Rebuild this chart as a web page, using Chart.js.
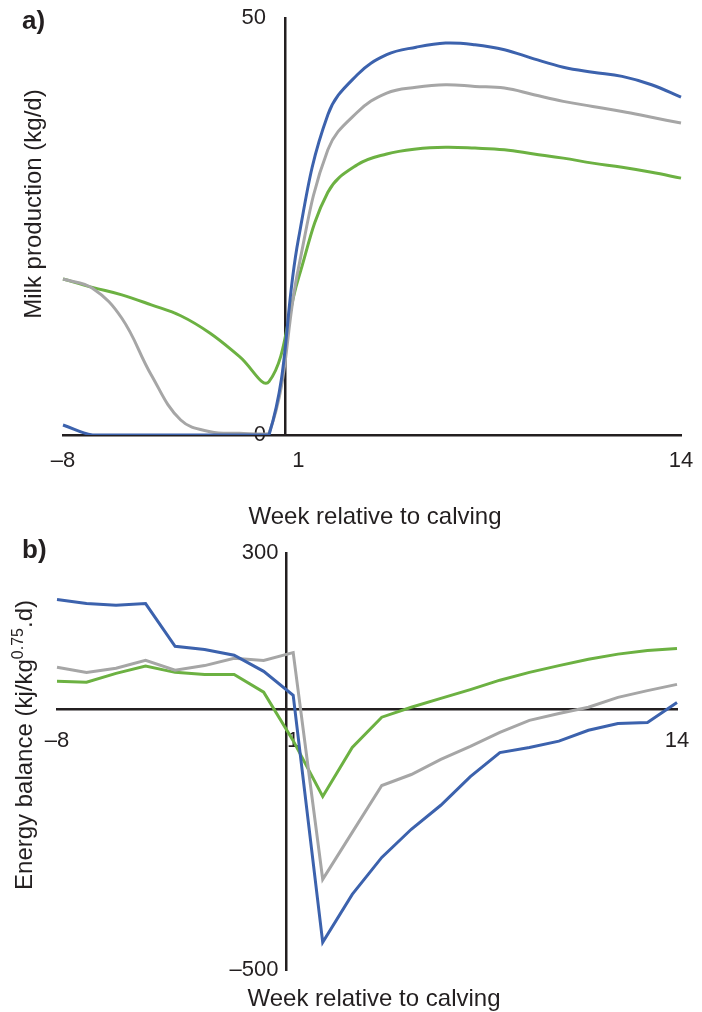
<!DOCTYPE html>
<html>
<head>
<meta charset="utf-8">
<script src="https://cdn.jsdelivr.net/npm/chart.js@4.4.1/dist/chart.umd.min.js"></script>
<style>
body{margin:0;width:702px;height:1012px;position:relative;background:#fff;overflow:hidden;
  font-family:"Liberation Sans",Arial,sans-serif;color:#231f20}
canvas{position:absolute;left:0}
.t{position:absolute;font-size:24px;white-space:nowrap;transform:translateX(-50%)}
.p{position:absolute;font-size:26px;font-weight:bold}
.r{position:absolute;font-size:24px;white-space:nowrap;transform:translate(-50%,-50%) rotate(-90deg)}
.r sup{font-size:16px}
</style>
</head>
<body>
<canvas id="milk" width="702" height="500" style="top:0"></canvas>
<canvas id="eb" width="702" height="512" style="top:500px"></canvas>

<div class="p" style="left:22px;top:5px">a)</div>
<div class="r" style="left:33px;top:204px">Milk production (kg/d)</div>
<div class="t" style="left:375px;top:502px">Week relative to calving</div>

<div class="p" style="left:22px;top:534px">b)</div>
<div class="r" style="left:23px;top:745px">Energy balance (kj/kg<sup>0.75</sup>.d)</div>
<div class="t" style="left:374px;top:984px">Week relative to calving</div>

<script>
// weeks relative to calving (no week 0)
const weeks = [-8,-7,-6,-5,-4,-3,-2,-1,1,2,3,4,5,6,7,8,9,10,11,12,13,14];
const shownWeeks = [-8, 1, 14];

// a) milk production, kg/d
const milkBlue  = [1.2,0,0,0,0,0,0,0,23.5,38.4,43.2,45.6,46.5,47.0,46.8,46.2,45.1,44.1,43.5,43.0,42.0,40.5];
const milkGrey  = [18.7,17.6,14.0,7.2,1.8,0.4,0.2,0.2,20.0,34.2,38.7,41.0,41.7,42.0,41.8,41.6,40.8,40.0,39.4,38.8,38.1,37.4];
const milkGreen = [18.7,17.7,16.8,15.6,14.3,12.2,9.4,6.4,18.8,29.1,32.4,33.7,34.3,34.5,34.4,34.2,33.7,33.2,32.6,32.1,31.5,30.8];
const milkTicks = [0, 50];

// b) energy balance, kj/kg^0.75.d
const ebBlue  = [211,203,200,203,121,115,104,73,27,-447,-355,-284,-230,-184,-129,-83,-73,-61,-40,-27,-25,13];
const ebGrey  = [81,71,79,94,75,84,98,94,109,-326,-236,-146,-125,-96,-71,-44,-21,-8,4,23,36,48];
const ebGreen = [54,52,69,83,71,67,67,33,-60,-167,-73,-15,4,21,38,56,71,84,96,106,113,117];
const ebTicks = [-500, 300];

const BLUE = '#3c62ad', GREY = '#a6a6a6', GREEN = '#6cb142', INK = '#231f20';
const tickFont = {family:'"Liberation Sans", Arial, sans-serif', size:22};

function dash(v){ return String(v).replace('-', '\u2013'); }

function line(data, color, tension){
    return {data:data, borderColor:color, borderWidth:3, pointRadius:0, tension:tension, fill:false};
}

// axes cross inside the plot; separate label scales sit a little away from the axis lines
function makeChart(id, sets, ticks, axisAt, labelAt, xLabelAt, pad, tension){
    return new Chart(document.getElementById(id), {
        type:'line',
        data:{
            labels:weeks,
            datasets:[line(sets[0],BLUE,tension), line(sets[1],GREY,tension), line(sets[2],GREEN,tension)]
        },
        options:{
            responsive:false,
            animation:false,
            devicePixelRatio:1,
            layout:{padding:pad},
            plugins:{legend:{display:false}, tooltip:{enabled:false}},
            scales:{
                x:{
                    type:'category',
                    position:{y:0},
                    offset:false,
                    grid:{display:false, drawTicks:false},
                    border:{display:true, color:INK, width:2.5},
                    ticks:{display:false}
                },
                xl:{
                    type:'category',
                    position:{y:xLabelAt},
                    offset:false,
                    grid:{display:false, drawTicks:false},
                    border:{display:false},
                    ticks:{
                        autoSkip:false, maxRotation:0, padding:0, color:INK, font:tickFont,
                        callback:function(v, i){
                            const w = weeks[i];
                            return shownWeeks.includes(w) ? dash(w) : '';
                        }
                    }
                },
                y:{
                    position:{x:axisAt},
                    min:ticks[0], max:ticks[ticks.length-1],
                    grid:{display:false, drawTicks:false},
                    border:{display:true, color:INK, width:2.5},
                    ticks:{display:false}
                },
                yl:{
                    position:{x:labelAt},
                    min:ticks[0], max:ticks[ticks.length-1],
                    afterBuildTicks:function(s){ s.ticks = ticks.map(v => ({value:v})); },
                    grid:{display:false, drawTicks:false},
                    border:{display:false},
                    ticks:{padding:0, color:INK, font:tickFont, callback:v => dash(v)}
                }
            }
        }
    });
}

makeChart('milk', [milkBlue, milkGrey, milkGreen], milkTicks, 7.54, 6.9, -1.56,
    {left:63, right:21, top:18, bottom:65}, 0.4);
makeChart('eb', [ebBlue, ebGrey, ebGreen], ebTicks, 7.78, 7.5, -34.5,
    {left:57, right:25, top:53, bottom:42}, 0);
</script>
</body>
</html>
